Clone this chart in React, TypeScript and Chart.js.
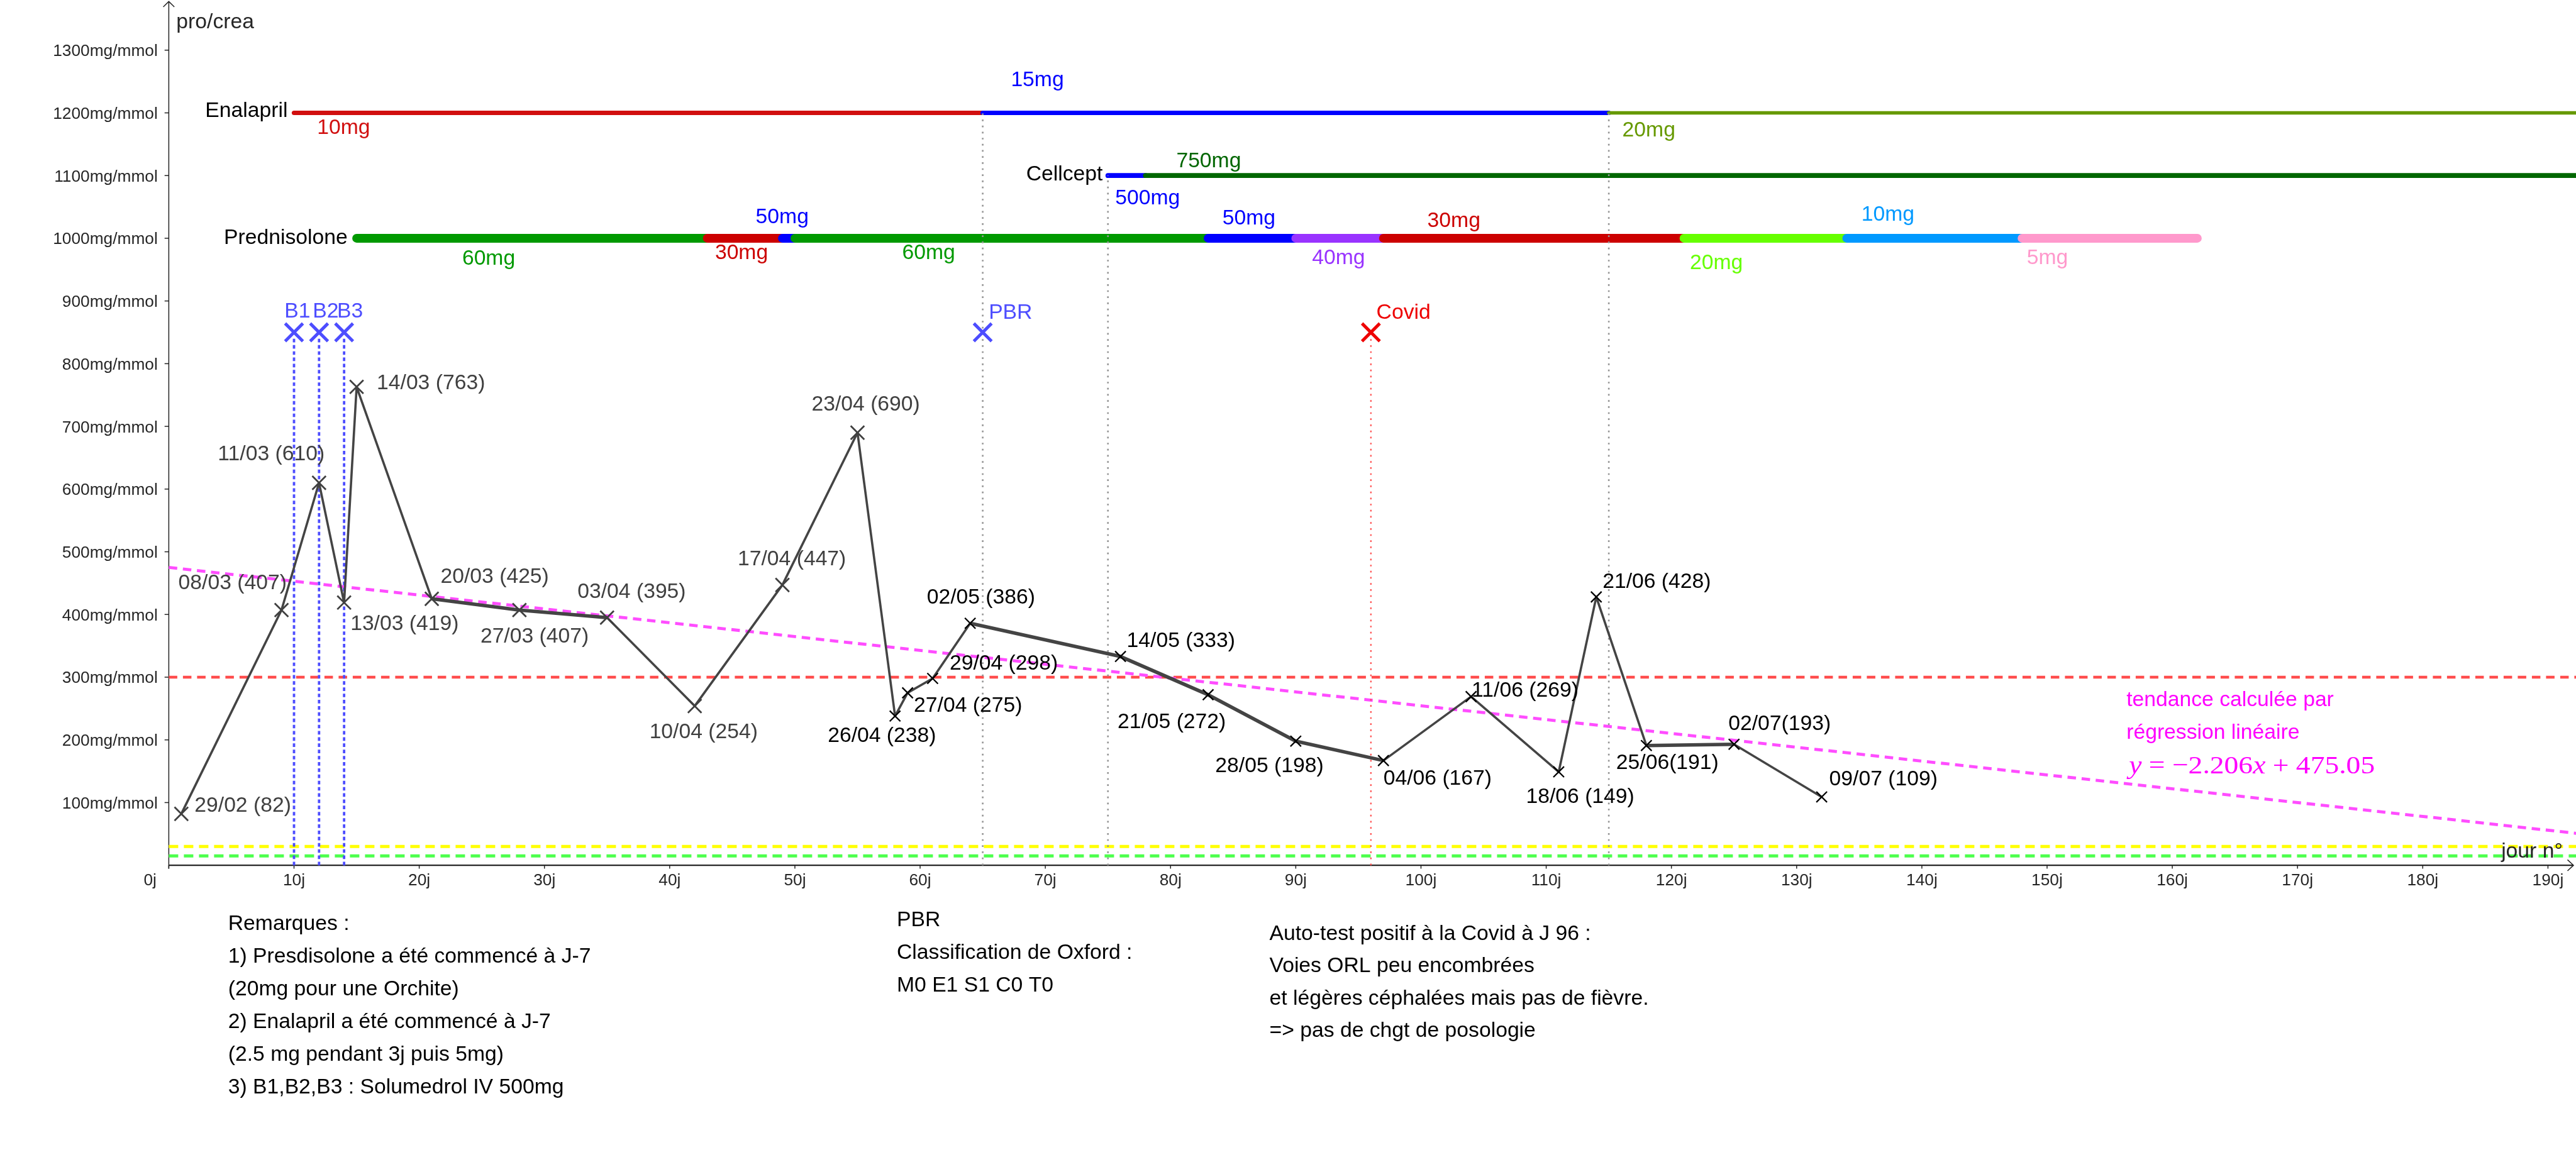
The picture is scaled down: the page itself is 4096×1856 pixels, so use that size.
import React, { useEffect, useRef } from "react";
import { Chart, registerables } from "chart.js";

Chart.register(...registerables);

const W = 4096;
const H = 1856;
const SANS = '"Liberation Sans", Arial, sans-serif';
const SERIF = '"Liberation Serif", "DejaVu Serif", serif';

// ---------------- data ----------------
const dates = ["29/02", "08/03", "11/03", "13/03", "14/03", "20/03", "27/03", "03/04", "10/04", "17/04", "23/04", "26/04", "27/04", "29/04", "02/05", "14/05", "21/05", "28/05", "04/06", "11/06", "18/06", "21/06", "25/06", "02/07", "09/07"];
const days = [1, 9, 12, 14, 15, 21, 28, 35, 42, 49, 55, 58, 59, 61, 64, 76, 83, 90, 97, 104, 111, 114, 118, 125, 132];
const values = [82, 407, 610, 419, 763, 425, 407, 395, 254, 447, 690, 238, 275, 298, 386, 333, 272, 198, 167, 269, 149, 428, 191, 193, 109];
const pointLabels = ["29/02 (82)", "08/03 (407)", "11/03 (610)", "13/03 (419)", "14/03 (763)", "20/03 (425)", "27/03 (407)", "03/04 (395)", "10/04 (254)", "17/04 (447)", "23/04 (690)", "26/04 (238)", "27/04 (275)", "29/04 (298)", "02/05 (386)", "14/05 (333)", "21/05 (272)", "28/05 (198)", "04/06 (167)", "11/06 (269)", "18/06 (149)", "21/06 (428)", "25/06(191)", "02/07(193)", "09/07 (109)"];

const yTicks = [100, 200, 300, 400, 500, 600, 700, 800, 900, 1000, 1100, 1200, 1300];
const yTickLabels = ["100mg/mmol", "200mg/mmol", "300mg/mmol", "400mg/mmol", "500mg/mmol", "600mg/mmol", "700mg/mmol", "800mg/mmol", "900mg/mmol", "1000mg/mmol", "1100mg/mmol", "1200mg/mmol", "1300mg/mmol"];
const xTicks = [0, 10, 20, 30, 40, 50, 60, 70, 80, 90, 100, 110, 120, 130, 140, 150, 160, 170, 180, 190];
const xTickLabels = ["0j", "10j", "20j", "30j", "40j", "50j", "60j", "70j", "80j", "90j", "100j", "110j", "120j", "130j", "140j", "150j", "160j", "170j", "180j", "190j"];

const treatmentNames = ["Enalapril", "Cellcept", "Prednisolone"];
const treatmentLevels = [1200, 1100, 1000];

const enalaprilFrom = [10, 65, 115];
const enalaprilTo = [65, 115, 200];
const enalaprilDose = ["10mg", "15mg", "20mg"];

const cellceptFrom = [75, 78];
const cellceptTo = [78, 200];
const cellceptDose = ["500mg", "750mg"];

const prednisoloneFrom = [15, 43, 49, 50, 83, 90, 97, 121, 134, 148];
const prednisoloneTo = [43, 49, 50, 83, 90, 97, 121, 134, 148, 162];
const prednisoloneDose = ["60mg", "30mg", "50mg", "60mg", "50mg", "40mg", "30mg", "20mg", "10mg", "5mg"];

const bolusNames = ["B1", "B2", "B3"];
const bolusDays = [10, 12, 14];
const eventLevel = 850;
const pbrDay = 65;
const covidDay = 96;

const guideDays = [65, 75, 115];
const guideTops = [1200, 1100, 1200];

const thresholdRed = 300;
const thresholdYellow = 30;
const thresholdGreen = 15;

const trendSlope = -2.206;
const trendIntercept = 475.05;

const remarksLines = ["Remarques :", "1) Presdisolone a été commencé à J-7", "(20mg pour une Orchite)", "2) Enalapril a été commencé à J-7", "(2.5 mg pendant 3j puis 5mg)", "3) B1,B2,B3 : Solumedrol IV 500mg"];
const pbrLines = ["PBR", "Classification de Oxford :", "M0 E1 S1 C0 T0"];
const covidLines = ["Auto-test positif à la Covid à J 96 :", "Voies ORL peu encombrées", "et légères céphalées mais pas de fièvre.", "=> pas de chgt de posologie"];
const trendLines = ["tendance calculée par", "régression linéaire"];

// ---------------- layout / styles ----------------
const X_MIN = -13.48, X_MAX = 192.24, Y_MIN = -481.2, Y_MAX = 1380;
const F = 33.7;
const FT = 26.3;

const enalaprilColors = ["#d10f0f", "#0000ff", "#669900"];
const cellceptColors = ["#0000ff", "#006600"];
const prednisoloneColors = ["#009900", "#cc0000", "#0000ff", "#009900", "#0000ff", "#9933ff", "#cc0000", "#66ff00", "#0099ff", "#ff99cc"];
const labelOffsets = [[21, -3], [-164, -33], [-161, -36], [10, 44], [32, 4], [14, -25], [-62, 52], [-47, -31], [-72, 51], [-71, -31], [-73, -35], [-107, 41], [10, 30], [27, -14], [-69, -31], [10, -15], [-144, 53], [-128, 49], [0, 38], [1, 0], [-52, 49], [10, -14], [-48, 37], [-9, -23], [12, -18]];
const thickSegments = [5, 6, 14, 15, 16, 17, 22];

const enalaprilDoseAt = [[11.85, 1166.3], [67.25, 1242.7], [116.08, 1162.3]];
const cellceptDoseAt = [[75.58, 1054.1], [80.46, 1113.6]];
const prednisoloneDoseAt = [[23.43, 958.1], [43.62, 966.9], [46.87, 1024.3], [58.57, 966.9], [84.14, 1021.6], [91.3, 959.0], [100.51, 1018.3], [121.47, 951.3], [135.17, 1028.4], [148.38, 959.0]];
const treatmentNameAt = [[2.91, 1193.4], [68.47, 1092.6], [4.4, 991.2]];
const bolusNameAt = [[9.23, 873.6], [11.5, 873.6], [13.44, 873.6]];

function lineDs(x1: number, y1: number, x2: number, y2: number, color: string, width: number, dash: number[], order: number, cap = "butt") {
  return {
    data: [{ x: x1, y: y1 }, { x: x2, y: y2 }],
    showLine: true,
    borderColor: color,
    borderWidth: width,
    borderDash: dash,
    borderCapStyle: cap,
    pointRadius: 0,
    pointHoverRadius: 0,
    fill: false,
    order,
  };
}

function buildDatasets() {
  const ds: any[] = [];
  ds.push(lineDs(0, thresholdYellow, 200, thresholdYellow, "#ffff00", 5, [15, 9], 100));
  ds.push(lineDs(0, thresholdGreen, 200, thresholdGreen, "#4dff4d", 5, [15, 9], 100));
  ds.push(lineDs(0, thresholdRed, 200, thresholdRed, "#ff4d4d", 4.6, [13.5, 9], 100));
  ds.push(lineDs(0, trendIntercept, 200, trendIntercept + trendSlope * 200, "#ff4dff", 4.8, [13.5, 9], 99));
  bolusDays.forEach((d) => ds.push(lineDs(d, 0, d, eventLevel - 10, "#4d4dff", 3.8, [5.7, 4.2], 90)));
  ds.push(lineDs(covidDay, 0, covidDay, eventLevel, "#ff4d4d", 2.2, [2.7, 7], 90));
  let k = 0;
  enalaprilFrom.forEach((f, i) => ds.push(lineDs(f, treatmentLevels[0], enalaprilTo[i], treatmentLevels[0], enalaprilColors[i], i === 2 ? 5.6 : 7.2, [], 80 - k++, "round")));
  cellceptFrom.forEach((f, i) => ds.push(lineDs(f, treatmentLevels[1], cellceptTo[i], treatmentLevels[1], cellceptColors[i], 7.8, [], 80 - k++, "round")));
  prednisoloneFrom.forEach((f, i) => ds.push(lineDs(f, treatmentLevels[2], prednisoloneTo[i], treatmentLevels[2], prednisoloneColors[i], 13.9, [], 80 - k++, "round")));
  guideDays.forEach((d, i) => ds.push(lineDs(d, 0, d, guideTops[i], "#959595", 2.6, [2.7, 7], 20)));
  ds.push({
    data: days.map((d, i) => ({ x: d, y: values[i] })),
    showLine: true,
    borderColor: "#444444",
    borderWidth: 3.6,
    borderJoinStyle: "round",
    segment: { borderWidth: (c: any) => (thickSegments.includes(c.p0DataIndex) ? 5.6 : 3.6) },
    pointStyle: "crossRot",
    pointRadius: (c: any) => (c.dataIndex <= 10 ? 15.3 : 12),
    pointBorderWidth: (c: any) => (c.dataIndex <= 10 ? 2.8 : 2.3),
    pointBorderColor: (c: any) => (c.dataIndex <= 10 ? "#404040" : "#000000"),
    pointBackgroundColor: "rgba(0,0,0,0)",
    fill: false,
    order: 5,
  });
  ds.push({
    data: [...bolusDays, pbrDay].map((d) => ({ x: d, y: eventLevel })),
    showLine: false,
    pointStyle: "crossRot",
    pointRadius: 20,
    pointBorderWidth: 5,
    pointBorderColor: "#4d4dff",
    order: 3,
  });
  ds.push({
    data: [{ x: covidDay, y: eventLevel }],
    showLine: false,
    pointStyle: "crossRot",
    pointRadius: 20,
    pointBorderWidth: 5,
    pointBorderColor: "#ee0000",
    order: 3,
  });
  return ds;
}

function txt(ctx: CanvasRenderingContext2D, s: string, x: number, y: number, color: string, size = F, align: CanvasTextAlign = "left", font = SANS, style = "") {
  ctx.fillStyle = color;
  ctx.font = `${style}${size}px ${font}`;
  ctx.textAlign = align;
  ctx.textBaseline = "alphabetic";
  ctx.fillText(s, x, y);
}

const annotPlugin = {
  id: "annot",
  beforeDatasetsDraw(chart: any) {
    const ctx: CanvasRenderingContext2D = chart.ctx;
    const sx = chart.scales.x, sy = chart.scales.y;
    const x0 = sx.getPixelForValue(0), y0 = sy.getPixelForValue(0);
    ctx.save();
    ctx.strokeStyle = "#252525";
    ctx.lineWidth = 2.4;
    ctx.beginPath();
    ctx.moveTo(x0, y0);
    ctx.lineTo(W - 4, y0);
    ctx.stroke();
    ctx.lineWidth = 1.5;
    ctx.beginPath();
    ctx.moveTo(W - 4 - 9.5, y0 - 8.8);
    ctx.lineTo(W - 4, y0);
    ctx.lineTo(W - 4 - 9.5, y0 + 8.8);
    ctx.stroke();
    ctx.lineWidth = 1.5;
    ctx.beginPath();
    ctx.moveTo(x0, y0 + 5.4);
    ctx.lineTo(x0, 2.4);
    ctx.stroke();
    ctx.beginPath();
    ctx.moveTo(x0 - 8.8, 11);
    ctx.lineTo(x0, 2.4);
    ctx.lineTo(x0 + 8.8, 11);
    ctx.stroke();
    yTicks.forEach((v, i) => {
      const y = sy.getPixelForValue(v);
      ctx.beginPath();
      ctx.moveTo(x0 - 6.7, y);
      ctx.lineTo(x0, y);
      ctx.stroke();
      txt(ctx, yTickLabels[i], x0 - 17.6, y + 9.4, "#262626", FT, "right");
    });
    xTicks.forEach((v, i) => {
      const x = sx.getPixelForValue(v);
      ctx.beginPath();
      ctx.moveTo(x, y0);
      ctx.lineTo(x, y0 + 5.4);
      ctx.stroke();
      if (v === 0) txt(ctx, xTickLabels[i], x - 29.7, y0 + 31.7, "#262626", FT, "center");
      else txt(ctx, xTickLabels[i], x, y0 + 31.7, "#262626", FT, "center");
    });
    ctx.restore();
  },
  afterDatasetsDraw(chart: any) {
    const ctx: CanvasRenderingContext2D = chart.ctx;
    const sx = chart.scales.x, sy = chart.scales.y;
    const P = (d: number) => sx.getPixelForValue(d);
    const Q = (v: number) => sy.getPixelForValue(v);
    ctx.save();
    txt(ctx, "pro/crea", P(0.6), Q(1335), "#262626");
    txt(ctx, "jour n°", P(186.27), Q(12.2), "#262626");
    pointLabels.forEach((s, i) => {
      const o = labelOffsets[i];
      txt(ctx, s, P(days[i]) + o[0], Q(values[i]) + o[1], i <= 10 ? "#404040" : "#000000");
    });
    treatmentNames.forEach((s, i) => txt(ctx, s, P(treatmentNameAt[i][0]), Q(treatmentNameAt[i][1]), "#000000"));
    enalaprilDose.forEach((s, i) => txt(ctx, s, P(enalaprilDoseAt[i][0]), Q(enalaprilDoseAt[i][1]), enalaprilColors[i]));
    cellceptDose.forEach((s, i) => txt(ctx, s, P(cellceptDoseAt[i][0]), Q(cellceptDoseAt[i][1]), cellceptColors[i]));
    prednisoloneDose.forEach((s, i) => txt(ctx, s, P(prednisoloneDoseAt[i][0]), Q(prednisoloneDoseAt[i][1]), prednisoloneColors[i]));
    bolusNames.forEach((s, i) => txt(ctx, s, P(bolusNameAt[i][0]), Q(bolusNameAt[i][1]), "#4d4dff"));
    txt(ctx, "PBR", P(65.48), Q(871.7), "#4d4dff");
    txt(ctx, "Covid", P(96.44), Q(871.5), "#ee0000");
    txt(ctx, trendLines[0], P(156.34), Q(253.5), "#ff00ff");
    txt(ctx, trendLines[1], P(156.34), Q(201.5), "#ff00ff");
    const parts: [string, boolean][] = [["y", true], [" = ", false], ["−2.206", false], ["x", true], [" + ", false], ["475.05", false]];
    const es = 41;
    let tw = 0;
    parts.forEach(([s, it]) => {
      ctx.font = `${it ? "italic " : ""}${es}px ${SERIF}`;
      tw += ctx.measureText(s).width;
    });
    ctx.save();
    ctx.translate(P(156.54), Q(146.7));
    ctx.scale(391 / tw, 1);
    let cx = 0;
    parts.forEach(([s, it]) => {
      txt(ctx, s, cx, 0, "#ff00ff", es, "left", SERIF, it ? "italic " : "");
      cx += ctx.measureText(s).width;
    });
    ctx.restore();
    const blocks: [string[], number, number, number][] = [
      [remarksLines, 4.74, -102.8, 52],
      [pbrLines, 58.14, -96.7, 52],
      [covidLines, 87.9, -119.3, 51.3],
    ];
    blocks.forEach(([lines, d, v, step]) => {
      lines.forEach((s, i) => txt(ctx, s, P(d), Q(v) + i * step, "#000000"));
    });
    ctx.restore();
  },
};

export default function App() {
  const ref = useRef<HTMLCanvasElement | null>(null);
  useEffect(() => {
    document.body.style.margin = "0";
    document.body.style.overflow = "hidden";
    const canvas = ref.current;
    if (!canvas) return;
    const chart = new Chart(canvas, {
      type: "scatter",
      data: { datasets: buildDatasets() },
      options: {
        responsive: false,
        maintainAspectRatio: false,
        animation: false,
        devicePixelRatio: 1,
        events: [],
        layout: { padding: 0, autoPadding: false },
        plugins: { legend: { display: false }, tooltip: { enabled: false }, title: { display: false } },
        scales: {
          x: { type: "linear", min: X_MIN, max: X_MAX, display: false },
          y: { type: "linear", min: Y_MIN, max: Y_MAX, display: false },
        },
      } as any,
      plugins: [annotPlugin as any],
    } as any);
    return () => chart.destroy();
  }, []);
  return (
    <div style={{ position: "fixed", left: 0, top: 0, width: W, height: H, background: "#ffffff" }}>
      <canvas ref={ref} width={W} height={H} style={{ display: "block", width: W, height: H }} />
    </div>
  );
}
